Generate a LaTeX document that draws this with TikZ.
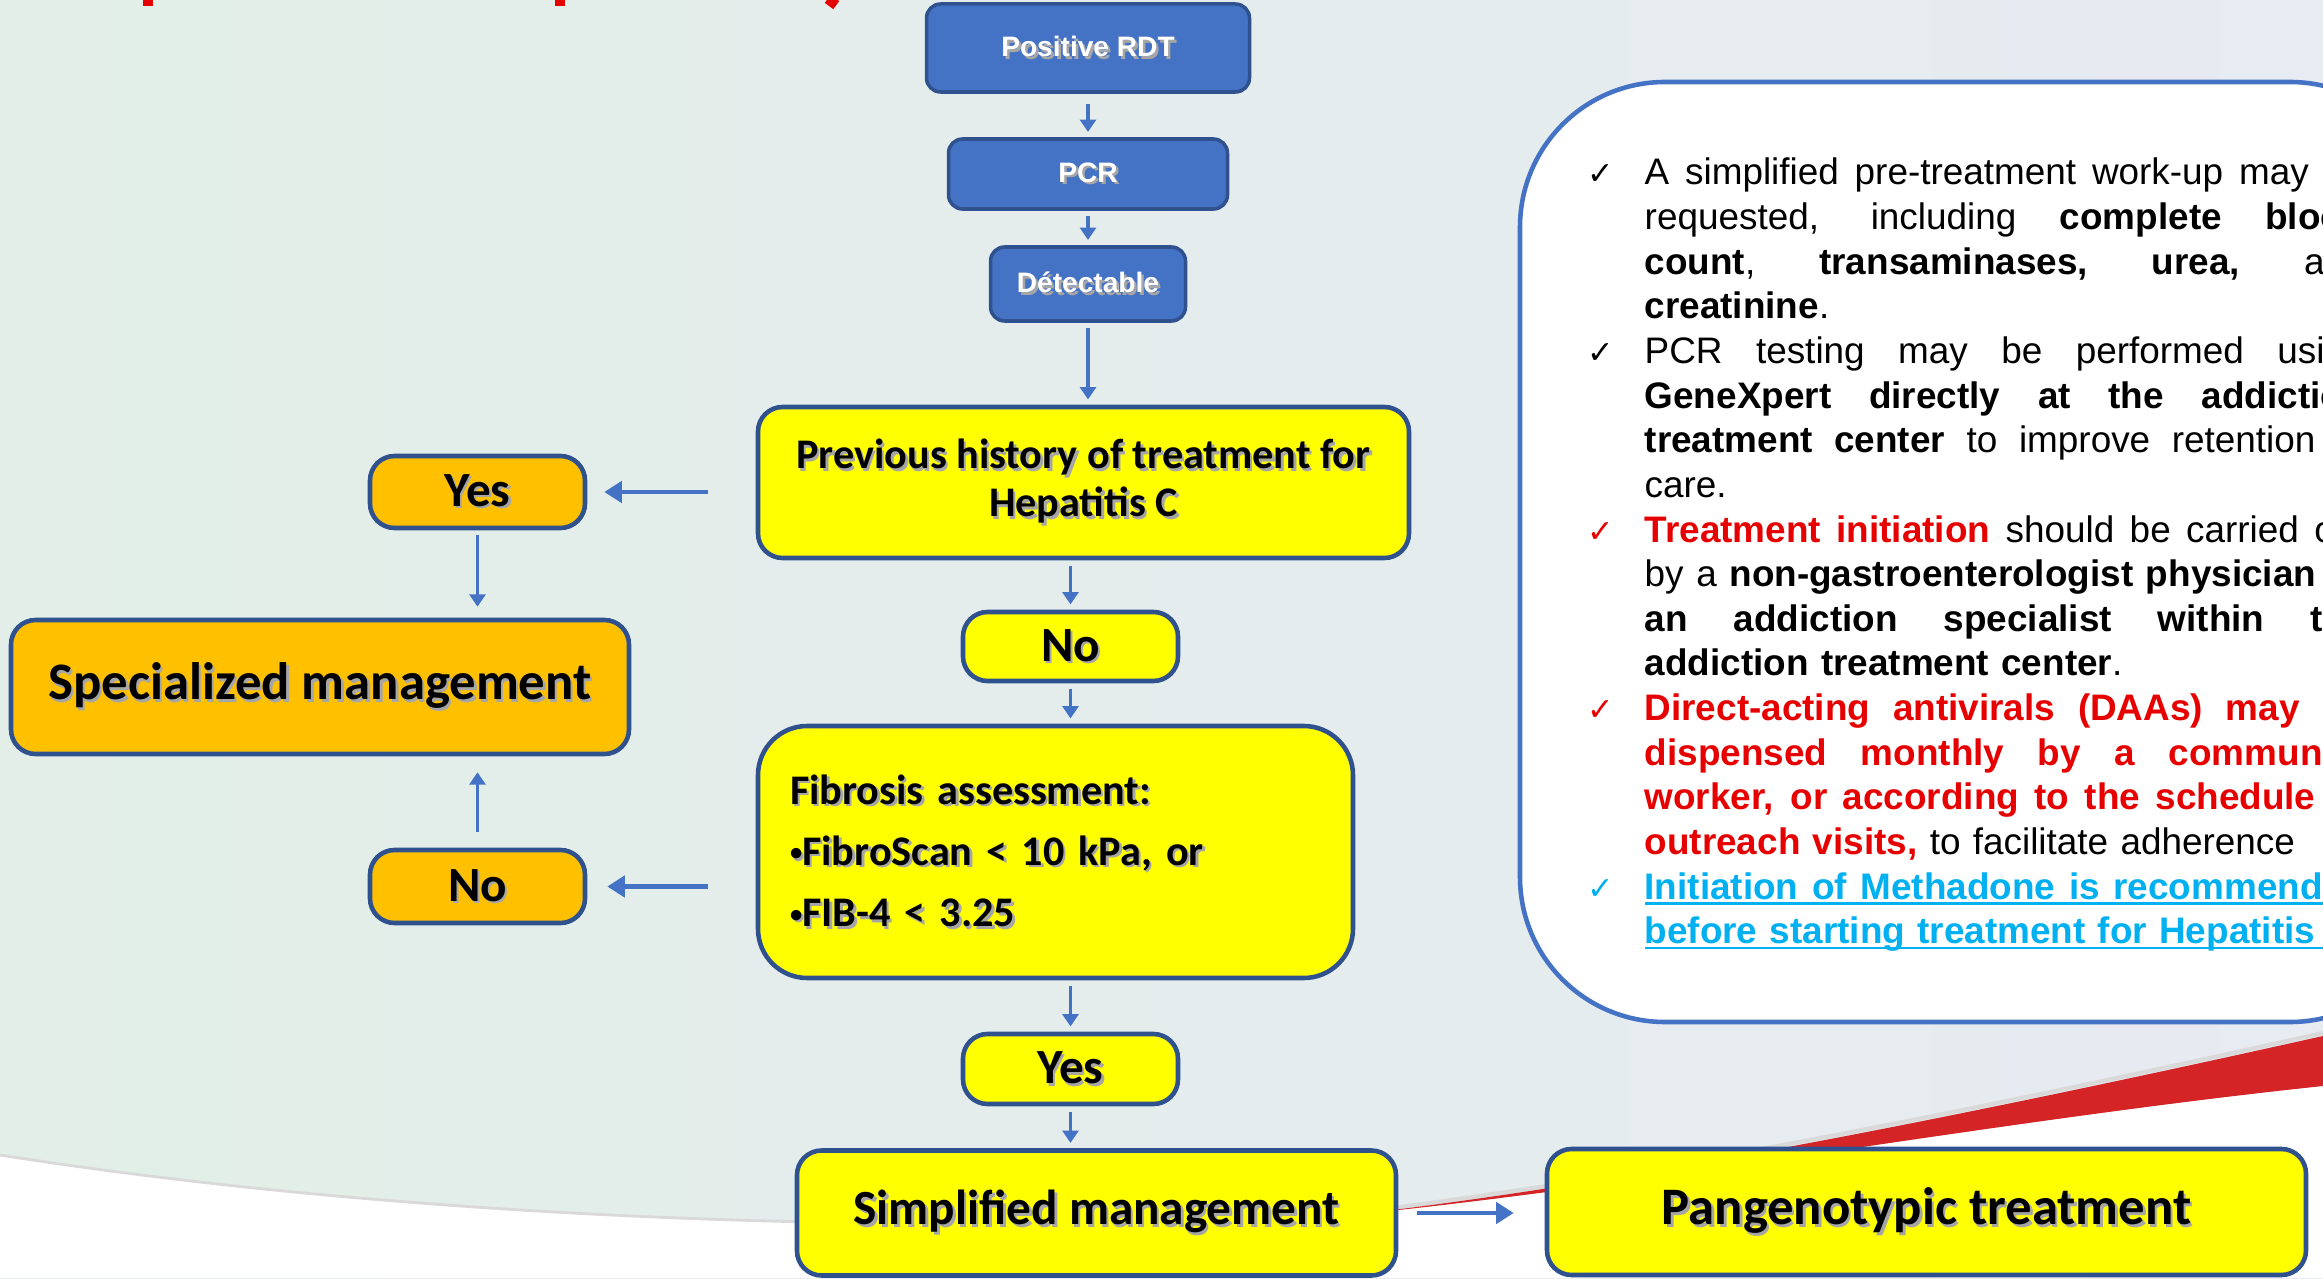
\documentclass[tikz,border=0pt]{standalone}
\usepackage{fontspec}
\setmainfont{Liberation Sans}
\newfontfamily\calibri{Carlito}
\newfontfamily\dejavu{DejaVu Sans}
\usetikzlibrary{arrows.meta}
\definecolor{boxblue}{RGB}{68,114,196}
\definecolor{edgeblue}{RGB}{47,82,143}
\definecolor{boxyellow}{RGB}{255,255,0}
\definecolor{boxorange}{RGB}{255,192,0}
\definecolor{txtred}{RGB}{230,0,0}
\definecolor{txtcyan}{RGB}{0,176,240}
\definecolor{swoosh}{RGB}{212,36,38}
\definecolor{bgleft}{RGB}{226,238,231}
\definecolor{bgright}{RGB}{231,235,242}
\newcommand{\shd}[1]{\makebox[0pt][l]{\kern0.7pt\raisebox{-0.7pt}{\color{black!35}#1}}#1}
\newcommand{\ck}[1]{\makebox[0.57cm][l]{\dejavu\fontsize{9pt}{9pt}\selectfont\color{#1}✓}}
\newcommand{\ind}{\hspace*{0.57cm}}
\newcommand{\jl}[1]{\hbox to 7.21cm{\spaceskip=.278em plus 1fil\xspaceskip=\spaceskip #1}}
\newcommand{\lastl}[1]{\hbox to 7.21cm{#1\hfil}}
\newcommand{\ulbox}[1]{\setbox0\hbox{#1}\rlap{\rule[-1.6pt]{\wd0}{0.8pt}}\box0}
\newcommand{\bul}{\raisebox{1.3pt}{\fontsize{7pt}{7pt}\selectfont•}}
\begin{document}
\begin{tikzpicture}[
  bluebox/.style={draw=edgeblue, line width=1pt, fill=boxblue, rounded corners=4pt, inner sep=0pt,
    text=white, font=\bfseries\fontsize{8pt}{9.6pt}\selectfont},
  yelbox/.style={draw=edgeblue, line width=1.3pt, fill=boxyellow, rounded corners=7pt, inner sep=0pt,
    font=\calibri\bfseries\fontsize{14pt}{16pt}\selectfont},
  orbox/.style={yelbox, fill=boxorange},
  bigtext/.style={font=\calibri\bfseries\fontsize{15pt}{18pt}\selectfont},
  arr/.style={draw=boxblue, line width=0.9pt, -{Triangle[length=3.5pt,width=4.5pt]},
    shorten <=1.5pt, shorten >=1.5pt},
  harr/.style={draw=boxblue, line width=1.4pt, -{Triangle[length=5pt,width=6pt]}}
]
\useasboundingbox (0,0) rectangle (23.23,12.78);
\clip (0,0) rectangle (23.23,12.78);
\fill [left color=bgleft, right color=bgright] (0,0) rectangle (23.23,12.78);
\fill [white] (0,0) -- (0,1.23) .. controls (4,0.6) and (9,0.4) .. (13.6,0.64)
  .. controls (16.5,0.93) and (20,1.58) .. (23.23,1.92) -- (23.23,0) -- cycle;
\draw [black!15, line width=0.8pt] (0,1.23) .. controls (4,0.6) and (9,0.4) .. (13.6,0.64);
\draw [black!15, line width=1.2pt] (13.6,0.66) .. controls (16.5,1.01) and (20,1.73) .. (23.23,2.45);
\fill [swoosh] (13.6,0.64) .. controls (16.5,0.98) and (20,1.7) .. (23.23,2.42) -- (23.23,1.92)
  .. controls (20,1.58) and (16.5,0.93) .. (13.6,0.64) -- cycle;
\draw [txtred, line width=3pt] (1.48,12.80) -- (1.48,12.72);
\draw [txtred, line width=3pt] (5.60,12.80) -- (5.60,12.72);
\draw [txtred, line width=3pt] (8.35,12.80) -- (8.29,12.72);

\draw [boxblue, line width=1.3pt, fill=white, rounded corners=1.45cm] (15.20,2.56) rectangle (24.35,11.96);
\node [anchor=base west, text width=7.78cm, inner sep=0pt, font=\fontsize{10.5pt}{12.7pt}\selectfont] (notes) at (15.87,10.93) {%
\noindent\ck{black}\jl{A simplified pre-treatment work-up may be}\par
\noindent\ind\jl{requested, including \textbf{complete blood}}\par
\noindent\ind\jl{\textbf{count}, \textbf{transaminases, urea,} and}\par
\noindent\ind\lastl{\textbf{creatinine}.}\par
\noindent\ck{black}\jl{PCR testing may be performed using}\par
\noindent\ind\jl{\textbf{GeneXpert directly at the addiction}}\par
\noindent\ind\jl{\textbf{treatment center} to improve retention in}\par
\noindent\ind\lastl{care.}\par
\noindent\ck{txtred}\jl{\textcolor{txtred}{\textbf{Treatment initiation}} should be carried out}\par
\noindent\ind\jl{by a \textbf{non-gastroenterologist physician or}}\par
\noindent\ind\jl{\textbf{an addiction specialist within the}}\par
\noindent\ind\lastl{\textbf{addiction treatment center}.}\par
\noindent\ck{txtred}\jl{\color{txtred}\bfseries Direct-acting antivirals (DAAs) may be}\par
\noindent\ind\jl{\color{txtred}\bfseries dispensed monthly by a community}\par
\noindent\ind\jl{\color{txtred}\bfseries worker, or according to the schedule of}\par
\noindent\ind\lastl{\textcolor{txtred}{\textbf{outreach visits,}} to facilitate adherence}\par
\noindent\ck{txtcyan}{\color{txtcyan}\bfseries\ulbox{\jl{Initiation of Methadone is recommended}}}\par
\noindent\ind{\color{txtcyan}\bfseries\ulbox{before starting treatment for Hepatitis C}}\par};

\node [bluebox, minimum width=3.23cm, minimum height=0.88cm] (rdt) at (10.88,12.30) {\shd{Positive RDT}};
\node [bluebox, minimum width=2.79cm, minimum height=0.70cm] (pcr) at (10.88,11.04) {\shd{PCR}};
\node [bluebox, minimum width=1.95cm, minimum height=0.74cm] (det) at (10.88,9.94) {\shd{Détectable}};
\node [yelbox, minimum width=6.51cm, minimum height=1.51cm, align=center,
  font=\calibri\bfseries\fontsize{12pt}{13.6pt}\selectfont] (prev) at (10.835,7.955)
  {\shd{Previous history of treatment for}\\\shd{Hepatitis C}};
\node [yelbox, minimum width=2.15cm, minimum height=0.69cm] (nomid) at (10.705,6.315) {\shd{No}};
\node [yelbox, rounded corners=14pt, minimum width=5.95cm, minimum height=2.52cm, text width=5.31cm, align=left,
  font=\calibri\bfseries\fontsize{12pt}{17.4pt}\selectfont] (fib) at (10.555,4.26)
  {\shd{Fibrosis assessment:}\\\shd{\bul FibroScan < 10 kPa, or}\\\shd{\bul FIB-4 < 3.25}};
\node [yelbox, minimum width=2.15cm, minimum height=0.70cm] (yesmid) at (10.705,2.09) {\shd{Yes}};
\node [yelbox, minimum width=5.99cm, minimum height=1.25cm] (simp) at (10.965,0.65) {\shd{Simplified management}};
\node [yelbox, bigtext, minimum width=7.59cm, minimum height=1.26cm] (pang) at (19.265,0.66) {\shd{Pangenotypic treatment}};
\node [orbox, minimum width=2.15cm, minimum height=0.72cm] (yesleft) at (4.775,7.86) {\shd{Yes}};
\node [orbox, bigtext, minimum width=6.18cm, minimum height=1.34cm] (spec) at (3.20,5.91) {\shd{Specialized management}};
\node [orbox, minimum width=2.15cm, minimum height=0.73cm] (noleft) at (4.775,3.915) {\shd{No}};

\draw [arr, shorten <=3pt] (rdt.south) -- (pcr.north);
\draw [arr] (pcr.south) -- (det.north);
\draw [arr] (det.south) -- (det.south |- prev.north);
\draw [arr] (nomid.north |- prev.south) -- (nomid.north);
\draw [arr] (nomid.south) -- (nomid.south |- fib.north);
\draw [arr] (yesmid.north |- fib.south) -- (yesmid.north);
\draw [arr] (yesmid.south) -- (yesmid.south |- simp.north);
\draw [harr, shorten <=0.19cm, shorten >=0.31cm] (simp.east) -- (simp.east -| pang.west);
\draw [harr, shorten <=0.48cm, shorten >=0.17cm] (prev.west |- yesleft.east) -- (yesleft.east);
\draw [harr, shorten <=0.48cm, shorten >=0.2cm] (fib.west |- noleft.east) -- (noleft.east);
\draw [arr, shorten <=0.05cm, shorten >=0.11cm] (yesleft.south) -- (yesleft.south |- spec.north);
\draw [arr, shorten <=0.16cm, shorten >=0.16cm] (noleft.north) -- (noleft.north |- spec.south);
\end{tikzpicture}
\end{document}
